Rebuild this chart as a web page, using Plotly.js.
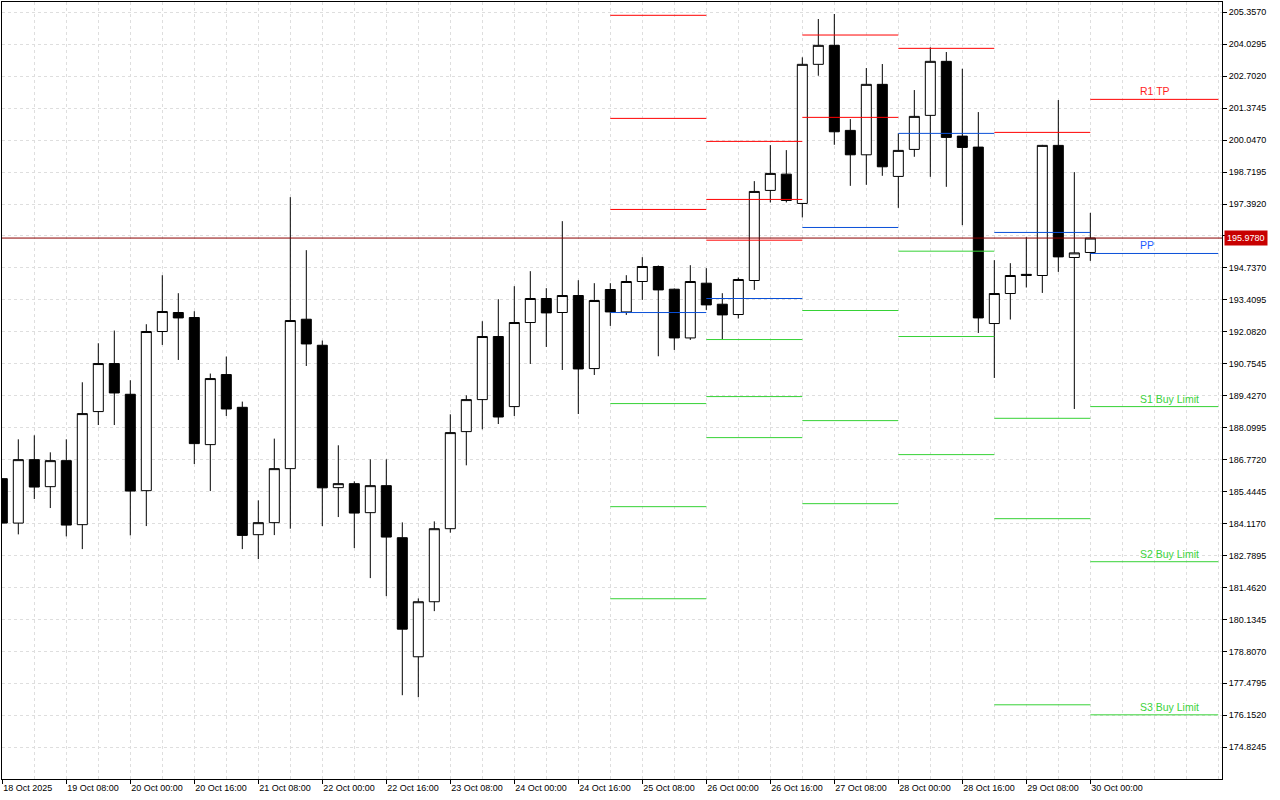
<!DOCTYPE html>
<html><head><meta charset="utf-8">
<script src="https://cdn.plot.ly/plotly-3.0.1.min.js"></script>
<style>html,body{margin:0;padding:0;background:#fff;}#chart{width:1280px;height:800px;}</style>
</head><body><div id="chart"></div>
<script>
// H4 bars
const times = [
 '2025-10-18 16:00','2025-10-18 20:00',
 '2025-10-19 00:00','2025-10-19 04:00','2025-10-19 08:00','2025-10-19 12:00','2025-10-19 16:00','2025-10-19 20:00',
 '2025-10-20 00:00','2025-10-20 04:00','2025-10-20 08:00','2025-10-20 12:00','2025-10-20 16:00','2025-10-20 20:00',
 '2025-10-21 00:00','2025-10-21 04:00','2025-10-21 08:00','2025-10-21 12:00','2025-10-21 16:00','2025-10-21 20:00',
 '2025-10-22 00:00','2025-10-22 04:00','2025-10-22 08:00','2025-10-22 12:00','2025-10-22 16:00','2025-10-22 20:00',
 '2025-10-23 00:00','2025-10-23 04:00','2025-10-23 08:00','2025-10-23 12:00','2025-10-23 16:00','2025-10-23 20:00',
 '2025-10-24 00:00','2025-10-24 04:00','2025-10-24 08:00','2025-10-24 12:00','2025-10-24 16:00','2025-10-24 20:00',
 '2025-10-25 00:00','2025-10-25 04:00','2025-10-25 08:00','2025-10-25 12:00','2025-10-25 16:00','2025-10-25 20:00',
 '2025-10-26 00:00','2025-10-26 04:00','2025-10-26 08:00','2025-10-26 12:00','2025-10-26 16:00','2025-10-26 20:00',
 '2025-10-27 00:00','2025-10-27 04:00','2025-10-27 08:00','2025-10-27 12:00','2025-10-27 16:00','2025-10-27 20:00',
 '2025-10-28 00:00','2025-10-28 04:00','2025-10-28 08:00','2025-10-28 12:00','2025-10-28 16:00','2025-10-28 20:00',
 '2025-10-29 00:00','2025-10-29 04:00','2025-10-29 08:00','2025-10-29 12:00','2025-10-29 16:00','2025-10-29 20:00',
 '2025-10-30 00:00'
];
const opens = [
 185.983,184.137,186.773,185.650,186.731,184.071,188.769,190.764,189.488,185.484,
 192.095,192.885,192.677,187.397,190.307,188.947,183.655,184.154,186.399,192.606,
 191.525,185.609,185.775,184.570,185.692,183.530,178.583,180.869,183.904,187.937,
 189.267,191.887,188.976,192.469,193.467,192.885,193.591,190.556,193.841,192.909,
 194.173,194.797,193.853,191.829,194.103,193.230,192.801,194.215,197.957,198.634,
 197.416,203.195,203.985,200.451,199.437,202.364,198.539,199.661,201.075,203.320,
 200.214,199.757,192.427,193.674,194.470,194.422,199.828,195.171,195.379
];
const highs = [
 185.983,187.617,187.783,187.076,187.617,189.987,191.608,192.136,190.070,192.398,
 194.435,193.687,192.939,190.349,191.055,189.184,185.081,187.646,197.678,195.475,
 191.720,187.368,185.871,186.786,186.786,184.166,181.007,184.208,188.656,189.446,
 192.523,193.438,193.978,194.602,193.895,196.680,194.227,194.103,194.103,194.435,
 195.184,194.839,193.882,194.851,194.726,193.687,194.340,198.343,199.840,199.632,
 203.486,205.078,205.286,200.921,203.041,203.208,200.326,202.127,203.902,203.707,
 203.012,201.212,195.059,194.934,196.015,199.850,201.711,198.718,197.025
];
const lows = [
 184.137,183.667,185.135,184.761,183.584,183.056,188.211,188.211,183.626,184.012,
 191.538,190.914,186.590,185.467,188.586,183.056,182.640,183.638,183.904,190.664,
 184.012,184.387,183.098,181.851,181.102,176.986,176.903,180.479,183.738,186.536,
 188.033,188.253,188.586,190.748,191.454,190.498,188.669,190.290,192.328,192.785,
 193.408,191.068,191.330,191.745,192.993,191.775,192.635,193.824,197.458,197.458,
 196.834,202.721,199.853,198.148,198.190,198.564,197.233,199.354,198.522,198.106,
 196.514,192.036,190.166,192.594,193.924,193.699,194.572,188.877,195.030
];
const closes = [
 184.137,186.773,185.634,186.731,184.054,188.686,190.764,189.542,185.467,192.095,
 192.926,192.660,187.438,190.141,188.877,183.626,184.154,186.399,192.552,191.579,
 185.601,185.775,184.553,185.692,183.555,179.730,180.869,183.904,187.896,189.267,
 191.887,188.544,192.469,193.467,192.868,193.591,190.540,193.383,192.909,194.173,
 194.797,193.824,191.829,194.173,193.201,192.785,194.257,197.915,198.664,197.541,
 203.195,203.985,200.393,199.437,202.364,198.938,199.620,201.033,203.320,200.160,
 199.744,192.660,193.674,194.422,194.430,199.828,195.196,195.362,195.978
];
const currentPrice = 195.978;

// Daily pivot levels
const pivotStart = ['2025-10-25 00:00','2025-10-26 00:00','2025-10-27 00:00','2025-10-28 00:00','2025-10-29 00:00','2025-10-30 00:00'];
const pivotEnd   = ['2025-10-26 00:00','2025-10-27 00:00','2025-10-28 00:00','2025-10-29 00:00','2025-10-30 00:00','2025-10-31 08:00'];
const R3 = [205.232, 199.994, null, null, null, null];
const R2 = [200.950, 197.583, 204.413, null, null, null];
const R1 = [197.167, 195.890, 200.992, 203.860, 200.368, 201.740];
const PP = [192.884, 193.467, 196.418, 200.327, 196.211, 195.338];
const S1 = [189.101, 191.762, 192.968, 195.433, 188.490, 188.976];
const S2 = [184.819, 189.392, 188.394, 191.887, 184.320, 182.532];
const S3 = [180.994, 187.688, 184.944, 186.981, 176.587, 176.171];

const labelTexts  = ['R1 TP', 'PP', 'S1 Buy Limit', 'S2 Buy Limit', 'S3 Buy Limit'];
const labelLevels = [R1, PP, S1, S2, S3];
const labelX = '2025-10-30 12:00';

const tickVals = ['2025-10-18 16:00','2025-10-19 08:00','2025-10-20 00:00','2025-10-20 16:00','2025-10-21 08:00',
 '2025-10-22 00:00','2025-10-22 16:00','2025-10-23 08:00','2025-10-24 00:00','2025-10-24 16:00','2025-10-25 08:00',
 '2025-10-26 00:00','2025-10-26 16:00','2025-10-27 08:00','2025-10-28 00:00','2025-10-28 16:00','2025-10-29 08:00','2025-10-30 00:00'];
const tickText = ['18 Oct 2025','19 Oct 08:00','20 Oct 00:00','20 Oct 16:00','21 Oct 08:00',
 '22 Oct 00:00','22 Oct 16:00','23 Oct 08:00','24 Oct 00:00','24 Oct 16:00','25 Oct 08:00',
 '26 Oct 00:00','26 Oct 16:00','27 Oct 08:00','28 Oct 00:00','28 Oct 16:00','29 Oct 08:00','30 Oct 00:00'];

const RED = '#ff0000', BLUE = '#0a50d8', GREEN = '#36d236';

function segTrace(levels, color) {
  const xs = [], ys = [];
  for (let i = 0; i < levels.length; i++) {
    if (levels[i] === null) continue;
    xs.push(pivotStart[i], pivotEnd[i], null);
    ys.push(levels[i], levels[i], null);
  }
  return {type: 'scatter', mode: 'lines', x: xs, y: ys, line: {color: color, width: 1},
          hoverinfo: 'skip', showlegend: false};
}

const candle = {
  type: 'candlestick', x: times, open: opens, high: highs, low: lows, close: closes,
  increasing: {line: {color: '#000000', width: 1}, fillcolor: '#ffffff'},
  decreasing: {line: {color: '#000000', width: 1}, fillcolor: '#000000'},
  whiskerwidth: 0, showlegend: false, hoverinfo: 'skip'
};

const traces = [candle,
  segTrace(R3, RED), segTrace(R2, RED), segTrace(R1, RED),
  segTrace(PP, BLUE),
  segTrace(S1, GREEN), segTrace(S2, GREEN), segTrace(S3, GREEN)];

const labelColors = ['#ff1e1e', '#1e5cff', '#3cd23c', '#3cd23c', '#3cd23c'];
const annotations = labelTexts.map((t, i) => ({
  x: labelX, y: labelLevels[i][labelLevels[i].length - 1], xref: 'x', yref: 'y',
  text: t, showarrow: false, xanchor: 'left', yanchor: 'bottom', yshift: 0,
  font: {family: 'Liberation Sans, Arial, sans-serif', size: 10.5, color: labelColors[i]}
}));
annotations.push({
  x: 1, xref: 'paper', y: currentPrice, yref: 'y', xanchor: 'left', yanchor: 'middle',
  xshift: 2, text: currentPrice.toFixed(4), showarrow: false, bgcolor: '#c80000',
  borderpad: 2, font: {family: 'Liberation Sans, Arial, sans-serif', size: 9, color: '#ffffff'}
});

const tickFont = {family: 'Liberation Sans, Arial, sans-serif', size: 9, color: '#000000'};

const layout = {
  width: 1280, height: 800,
  margin: {l: 2, r: 58, t: 2, b: 21, pad: 0},
  paper_bgcolor: '#ffffff', plot_bgcolor: '#ffffff',
  showlegend: false,
  boxgap: 0.375, boxgroupgap: 0,
  xaxis: {
    type: 'date',
    range: ['2025-10-18 15:55:24', '2025-10-31 08:55:12'],
    tickmode: 'array', tickvals: tickVals, ticktext: tickText,
    ticklabelposition: 'outside right', tickangle: 0,
    ticks: 'outside', ticklen: 4, tickcolor: '#000000', tickwidth: 1,
    tickfont: tickFont,
    showgrid: true, gridcolor: '#dedede', griddash: 'dot', gridwidth: 1,
    minor: {dtick: 28800000, tick0: '2025-10-18 16:00', showgrid: true, gridcolor: '#dedede', griddash: 'dot', ticks: ''},
    showline: true, linecolor: '#000000', linewidth: 1, mirror: true,
    zeroline: false, rangeslider: {visible: false}, fixedrange: true
  },
  yaxis: {
    side: 'right',
    range: [173.505, 205.785],
    tickmode: 'linear', tick0: 174.8245, dtick: 1.3275, tickformat: '.4f',
    ticks: 'outside', ticklen: 4, tickcolor: '#000000', tickwidth: 1,
    tickfont: tickFont,
    showgrid: true, gridcolor: '#dedede', griddash: 'dot', gridwidth: 1,
    showline: true, linecolor: '#000000', linewidth: 1, mirror: true,
    zeroline: false, fixedrange: true
  },
  shapes: [{type: 'line', xref: 'paper', x0: 0, x1: 1, yref: 'y', y0: currentPrice, y1: currentPrice,
            line: {color: '#8b0000', width: 1}, layer: 'above'}],
  annotations: annotations
};

Plotly.newPlot('chart', traces, layout, {staticPlot: true, displayModeBar: false});
</script>
</body></html>
